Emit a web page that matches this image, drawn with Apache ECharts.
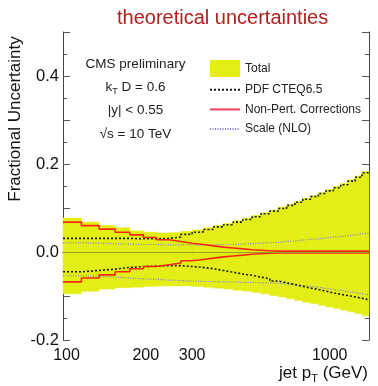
<!DOCTYPE html>
<html>
<head>
  <meta charset="utf-8">
  <title>theoretical uncertainties</title>
  <script src="https://cdn.jsdelivr.net/npm/echarts@6/dist/echarts.min.js"></script>
</head>
<body style="margin:0">
  <div id="main" style="width:378px;height:386px;"></div>
  <script type="text/javascript">
    // jet pT bin edges (GeV)
    var ptEdges = [97, 114, 133, 153, 174, 196, 220, 245, 272, 300, 330, 362, 395, 430, 468, 507,
      548, 592, 638, 686, 737, 790, 846, 905, 967, 1032, 1101, 1172, 1248, 1327, 1410];

    // fractional uncertainties per bin
    var totalUp = [0.077, 0.068, 0.060, 0.055, 0.048, 0.045, 0.043, 0.044, 0.047, 0.050, 0.055, 0.060, 0.065, 0.071, 0.077,
      0.083, 0.089, 0.095, 0.102, 0.108, 0.115, 0.122, 0.128, 0.135, 0.142, 0.149, 0.156, 0.164, 0.173, 0.183];
    var totalDown = [-0.095, -0.089, -0.084, -0.081, -0.080, -0.078, -0.077, -0.077, -0.077, -0.078, -0.080, -0.082, -0.084, -0.087, -0.089,
      -0.092, -0.095, -0.099, -0.102, -0.106, -0.110, -0.114, -0.117, -0.121, -0.125, -0.128, -0.132, -0.136, -0.140, -0.145];
    var pdfUp = [0.031, 0.031, 0.031, 0.031, 0.030, 0.030, 0.031, 0.034, 0.040, 0.045, 0.051, 0.057, 0.062, 0.068, 0.074,
      0.080, 0.087, 0.093, 0.099, 0.106, 0.113, 0.120, 0.126, 0.133, 0.139, 0.146, 0.153, 0.161, 0.170, 0.180];
    var pdfDown = [-0.045, -0.042, -0.039, -0.035, -0.033, -0.032, -0.031, -0.031, -0.033, -0.035, -0.038, -0.042, -0.046, -0.050, -0.053,
      -0.057, -0.061, -0.066, -0.070, -0.074, -0.078, -0.082, -0.085, -0.089, -0.093, -0.096, -0.099, -0.102, -0.105, -0.109];
    var npUp = [0.068, 0.060, 0.052, 0.045, 0.039, 0.033, 0.028, 0.024, 0.020, 0.017, 0.014, 0.011, 0.009, 0.007, 0.005,
      0.004, 0.003, 0.002, 0.002, 0.002, 0.002, 0.002, 0.002, 0.002, 0.002, 0.002, 0.002, 0.002, 0.002, 0.002];
    var npDown = [-0.068, -0.059, -0.052, -0.045, -0.038, -0.033, -0.029, -0.025, -0.020, -0.017, -0.014, -0.011, -0.009, -0.007, -0.005,
      -0.004, -0.003, -0.002, -0.002, -0.002, -0.002, -0.002, -0.002, -0.002, -0.002, -0.002, -0.002, -0.002, -0.002, -0.002];
    var scaleUp = [0.021, 0.020, 0.019, 0.018, 0.017, 0.017, 0.016, 0.016, 0.016, 0.016, 0.016, 0.017, 0.017, 0.018, 0.019,
      0.020, 0.021, 0.022, 0.024, 0.025, 0.027, 0.029, 0.030, 0.032, 0.034, 0.035, 0.037, 0.039, 0.041, 0.043];
    var scaleDown = [-0.054, -0.055, -0.057, -0.059, -0.061, -0.062, -0.064, -0.065, -0.066, -0.067, -0.067, -0.068, -0.068, -0.069, -0.069,
      -0.070, -0.070, -0.071, -0.072, -0.074, -0.076, -0.078, -0.080, -0.083, -0.085, -0.087, -0.090, -0.092, -0.095, -0.097];

    var xLabelValues = [100, 200, 300, 1000];
    var xTickValues = [100, 200, 300, 400, 500, 600, 700, 800, 900, 1000];
    var infoLines = ['CMS preliminary', 'k{sub|T} D = 0.6', '|y| < 0.55', '√s = 10 TeV'];
    var xTitle = 'jet p{sub|T} (GeV)';
    var yTitle = 'Fractional Uncertainty';

    var lg = function (v) { return Math.log10(v); };
    var font = 'Liberation Sans';

    // histogram steps: one point per left edge, plus the last right edge
    function stepPoints(vals) {
      return ptEdges.map(function (e, i) {
        return [lg(e), vals[Math.min(i, vals.length - 1)]];
      });
    }

    var bandData = totalUp.map(function (u, i) {
      return [lg(ptEdges[i]), lg(ptEdges[i + 1]), totalDown[i], u];
    });

    function stepLine(name, vals, color, width, type, z) {
      return {
        name: name, type: 'line', step: 'end', symbol: 'none', silent: true, z: z,
        data: stepPoints(vals),
        itemStyle: { color: color },
        lineStyle: { color: color, width: width, type: type }
      };
    }

    var subRich = { sub: { fontSize: 9, fontFamily: font, fill: '#222', padding: [9, 0, 0, 0] } };

    var texts = infoLines.map(function (t, i) {
      return {
        type: 'text', x: 135.5, y: 64 + i * 23.3, silent: true,
        style: {
          text: t, align: 'center', verticalAlign: 'middle',
          fontSize: 13.5, fontFamily: font, fill: '#222', rich: subRich
        }
      };
    });
    // axis titles
    texts.push({
      type: 'text', x: 368, y: 373, silent: true,
      style: {
        text: xTitle, align: 'right', verticalAlign: 'middle',
        fontSize: 17, fontFamily: font, fill: '#111',
        rich: { sub: { fontSize: 11, fontFamily: font, fill: '#111', padding: [11, 0, 0, 0] } }
      }
    });
    texts.push({
      type: 'text', x: 15, y: 119, rotation: Math.PI / 2, silent: true,
      style: {
        text: yTitle, align: 'center', verticalAlign: 'middle',
        fontSize: 17, fontFamily: font, fill: '#111'
      }
    });

    var myChart = echarts.init(document.getElementById('main'));

    var option = {
      animation: false,
      title: {
        text: 'theoretical uncertainties',
        left: 117, top: 8, padding: 0,
        textStyle: { color: '#b01f1c', fontSize: 20, fontWeight: 'normal', fontFamily: font }
      },
      grid: { left: 63, right: 9, top: 32, bottom: 46, containLabel: false, outerBoundsMode: 'none' },
      legend: {
        left: 204, top: 55, orient: 'vertical',
        itemWidth: 30, itemHeight: 17, itemGap: 6,
        selectedMode: false,
        textStyle: { fontSize: 12, color: '#222', fontFamily: font },
        data: [
          { name: 'Total', icon: 'rect' },
          { name: 'PDF CTEQ6.5', itemStyle: { opacity: 0 } },
          { name: 'Non-Pert. Corrections', itemStyle: { opacity: 0 }, lineStyle: { color: '#ff3b64' } },
          { name: 'Scale (NLO)', itemStyle: { opacity: 0 } }
        ]
      },
      graphic: texts,
      xAxis: [
        {
          type: 'value', position: 'bottom', min: lg(97), max: lg(1410),
          axisLine: { lineStyle: { color: '#444', width: 1 } },
          axisTick: { inside: true, length: 6, customValues: xTickValues.map(lg), lineStyle: { color: '#555' } },
          axisLabel: {
            customValues: xLabelValues.map(lg), margin: 8,
            fontSize: 16, color: '#111', fontFamily: font,
            formatter: function (v) { return Math.round(Math.pow(10, v)); }
          },
          splitLine: { show: false }
        },
        {
          type: 'value', position: 'top', min: lg(97), max: lg(1410),
          axisLine: { lineStyle: { color: '#444', width: 1 } },
          axisTick: { inside: true, length: 6, customValues: xTickValues.map(lg), lineStyle: { color: '#555' } },
          axisLabel: { show: false },
          splitLine: { show: false }
        }
      ],
      yAxis: [
        {
          type: 'value', min: -0.2, max: 0.5, interval: 0.1,
          axisLine: { lineStyle: { color: '#444', width: 1 } },
          axisTick: { inside: true, length: 7, lineStyle: { color: '#555' } },
          minorTick: { show: true, splitNumber: 2, length: 4, lineStyle: { color: '#555' } },
          axisLabel: {
            margin: 4, fontSize: 16.5, color: '#111', fontFamily: font,
            formatter: function (v) {
              var k = Math.round(v * 10);
              return (k % 2 === 0 && k < 5) ? v.toFixed(1) : '';
            }
          },
          splitLine: { show: false }
        },
        {
          type: 'value', position: 'right', min: -0.2, max: 0.5, interval: 0.1,
          axisLine: { lineStyle: { color: '#444', width: 1 } },
          axisTick: { inside: true, length: 7, lineStyle: { color: '#555' } },
          minorTick: { show: true, splitNumber: 2, length: 4, lineStyle: { color: '#555' } },
          axisLabel: { show: false },
          splitLine: { show: false }
        }
      ],
      series: [
        {
          name: 'Total', type: 'custom', silent: true, z: 1,
          itemStyle: { color: '#e3ef14' },
          encode: { x: [0, 1], y: [2, 3] },
          data: bandData,
          renderItem: function (params, api) {
            var p0 = api.coord([api.value(0), api.value(3)]);
            var p1 = api.coord([api.value(1), api.value(2)]);
            return {
              type: 'rect',
              shape: { x: p0[0], y: p0[1], width: p1[0] - p0[0], height: p1[1] - p0[1] },
              style: { fill: '#e3ef14', stroke: '#e3ef14', lineWidth: 0.6 }
            };
          },
          markLine: {
            silent: true, symbol: 'none', label: { show: false },
            lineStyle: { color: '#98a020', width: 1, type: 'solid' },
            data: [{ yAxis: 0 }]
          }
        },
        stepLine('Scale (NLO)', scaleUp, '#7c7ce0', 1.2, [1, 1.5], 2),
        stepLine('Scale (NLO)', scaleDown, '#7c7ce0', 1.2, [1, 1.5], 2),
        stepLine('PDF CTEQ6.5', pdfUp, '#1a1a1a', 1.6, [2, 2], 3),
        stepLine('PDF CTEQ6.5', pdfDown, '#1a1a1a', 1.6, [2, 2], 3),
        stepLine('Non-Pert. Corrections', npUp, '#f52a14', 1.6, 'solid', 4),
        stepLine('Non-Pert. Corrections', npDown, '#f52a14', 1.6, 'solid', 4)
      ]
    };

    myChart.setOption(option);
  </script>
</body>
</html>
